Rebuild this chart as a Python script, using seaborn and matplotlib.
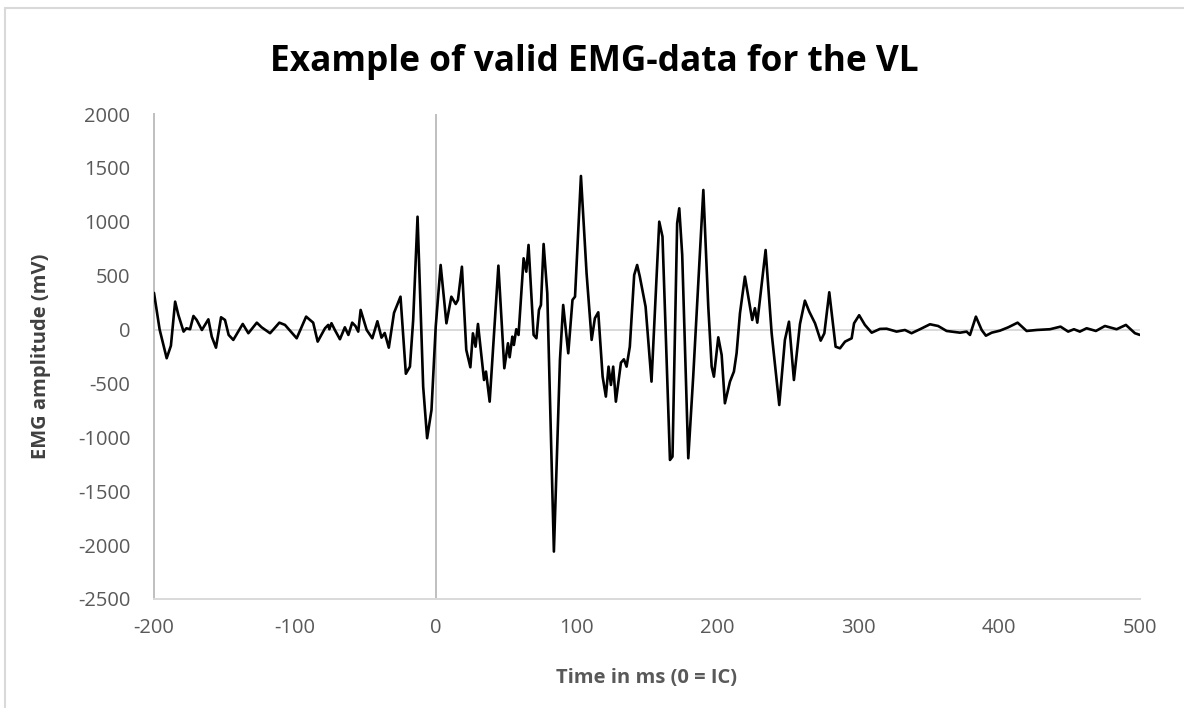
import numpy as np
import pandas as pd
import matplotlib
matplotlib.use("Agg")
import matplotlib.pyplot as plt
import seaborn as sns
from matplotlib.lines import Line2D

# EMG trace (time in ms, amplitude in mV)
time_ms = [
    -200, -196, -191, -188, -185, -182.7, -179, -177, -174.4, -172, -169.7, -166,
    -161.4, -159, -156, -152.4, -149.6, -147, -143.7, -137, -133, -127, -123.6,
    -117.6, -111, -107, -98.7, -92, -87, -83.8, -78.6, -76.3, -75.5, -74, -71.6,
    -68, -64.5, -62, -59.3, -57, -55, -53.3, -49, -45, -41.4, -38.5, -36.2, -33.3,
    -29.6, -25, -21.2, -18.3, -16, -12.9, -8.9, -6.1, -3, 0, 3.5, 7.6, 11.1, 14.2,
    15.8, 18.6, 21.7, 24.6, 26.4, 28.3, 30, 34.3, 35.7, 38.3, 44.5, 48.7, 51.3,
    52.5, 54.4, 55.5, 57.2, 58.8, 62.4, 64.3, 65.9, 69.5, 71.5, 73.3, 74.7, 76.6,
    79.2, 83.9, 88.2, 90.5, 94.1, 97.1, 98.9, 103.1, 107.1, 110.7, 113, 115.4,
    118.5, 120.8, 122.7, 124.4, 126, 127.9, 131.5, 133.6, 135.5, 137.8, 140.9, 143,
    144.9, 149, 153.2, 158.7, 161, 166.3, 168.1, 171.4, 172.9, 175, 179.3, 182.8,
    190, 193.5, 195.9, 197.5, 200.6, 203, 205.3, 208.9, 211.7, 213.6, 216, 219.5,
    221.9, 224.7, 226.6, 228.3, 230.7, 234.2, 238.5, 243.9, 247.9, 250.8, 254.3,
    258.6, 262.1, 265.2, 269.3, 273.3, 275.9, 279.4, 283.9, 287, 290.6, 295.3, 297,
    300.6, 304.7, 309.5, 315.4, 320.1, 327.2, 333.1, 337.8, 343.8, 350.9, 356.7,
    362.7, 372.2, 376.9, 379.3, 383.5, 387.6, 390.6, 394.7, 400.6, 406.5, 413.1,
    419.5, 426.6, 436.1, 443.6, 449, 453.1, 457.3, 462.1, 468.7, 475.1, 483.4, 490,
    496.4, 500,
]
emg_mv = [
    340, 0, -266, -150, 259, 135, -19, 12, 3, 126, 89, -4,
    95, -66, -168, 114, 89, -50, -96, 52, -34, 64, 21,
    -34, 64, 43, -81, 120, 64, -112, 12, 43, 3, 59, -4,
    -90, 21, -50, 64, 33, -19, 182, -4, -81, 77, -75, -32, -168,
    155, 305, -410, -344, 89, 1047, -530, -1008, -746, 27, 599, 58, 305, 237,
    275, 583, -189, -350, -35, -159, 52, -468, -390, -669, 593, -359, -127,
    -257, -66, -143, 3, -50, 661, 537, 785, -50, -81, 182, 228, 794,
    337, -2060, -282, 228, -220, 275, 305, 1425, 522, -96, 105, 160,
    -437, -622, -344, -514, -344, -669, -307, -276, -344, -159, 506, 599,
    491, 212, -483, 1001, 862, -1210, -1179, 986, 1125, 692, -1194, -437,
    1295, 212, -344, -437, -72, -236, -684, -483, -390, -220, 151, 491,
    305, 89, 198, 64, 337, 738, -35, -700, -96, 73, -468,
    52, 268, 166, 58, -103, -35, 346, -159, -174, -112, -81, 58,
    133, 43, -29, 6, 8, -19, -4, -34, 3, 49, 33,
    -13, -29, -19, -50, 120, -4, -57, -29, -10, 21, 64,
    -13, -4, 3, 27, -19, 3, -19, 12, -13, 33, 3, 43,
    -34, -50,
]

y_ticks = [2000, 1500, 1000, 500, 0, -500, -1000, -1500, -2000, -2500]
x_ticks = [-200, -100, 0, 100, 200, 300, 400, 500]

df = pd.DataFrame({"time": time_ms, "emg": emg_mv})

sns.set_style("white")
plt.rcParams["font.family"] = ["Open Sans", "DejaVu Sans"]
plt.rcParams["axes.unicode_minus"] = False

fig = plt.figure(figsize=(11.84, 7.08), dpi=100)
ax = fig.add_axes([154 / 1184, 1 - 599 / 708, 986 / 1184, 485 / 708])

ax.axhline(0, color="#d9d9d9", lw=1.4, zorder=1)
ax.axvline(0, color="#bfbfbf", lw=1.4, zorder=1)
sns.lineplot(data=df, x="time", y="emg", color="black", lw=1.9, ax=ax,
             sort=False, zorder=3)

ax.set_xlim(-200, 500)
ax.set_ylim(-2500, 2000)
ax.set_xticks(x_ticks)
ax.set_yticks(y_ticks)
ax.tick_params(axis="both", length=0, labelsize=14.5, labelcolor="#595959")
ax.tick_params(axis="y", pad=17)
ax.tick_params(axis="x", pad=14)

for side in ["top", "right"]:
    ax.spines[side].set_visible(False)
ax.spines["left"].set_color("#bfbfbf")
ax.spines["bottom"].set_color("#d9d9d9")
ax.spines["left"].set_linewidth(1.4)
ax.spines["bottom"].set_linewidth(1.4)

ax.set_xlabel("Time in ms (0 = IC)", fontsize=14.5, fontweight="bold", color="#595959")
ax.set_ylabel("EMG amplitude (mV)", fontsize=14.5, fontweight="bold", color="#404040")
ax.xaxis.set_label_coords(0.5, -0.142)
ax.yaxis.set_label_coords(-0.104, 0.5)

fig.text(594 / 1184, 1 - 62 / 708, "Example of valid EMG-data for the VL",
         ha="center", va="center", fontsize=25.4, fontweight="bold", color="black")

# thin border at top and left of the chart area
fig.add_artist(Line2D([5 / 1184, 1], [1 - 7.5 / 708, 1 - 7.5 / 708],
                      transform=fig.transFigure, color="#d9d9d9", lw=1.5))
fig.add_artist(Line2D([5 / 1184, 5 / 1184], [0, 1 - 7.5 / 708],
                      transform=fig.transFigure, color="#d9d9d9", lw=1.5))

fig.savefig("out.png", dpi=100)
